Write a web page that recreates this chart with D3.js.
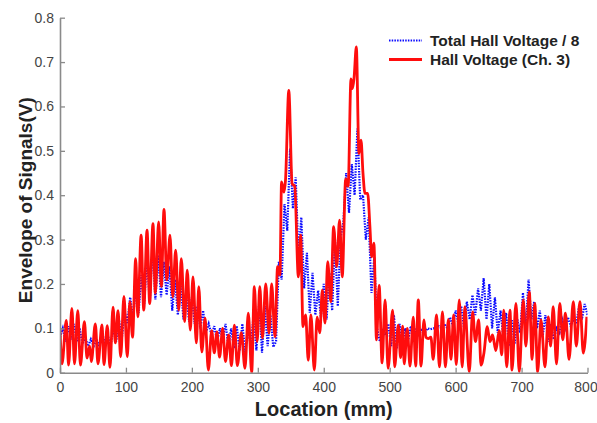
<!DOCTYPE html>
<html>
<head>
<meta charset="utf-8">
<script src="https://cdn.jsdelivr.net/npm/d3@7/dist/d3.min.js"></script>
<style>
  html, body { margin: 0; padding: 0; background: #fff; }
  svg { display: block; }
</style>
</head>
<body>
<svg id="chart" width="597" height="423"></svg>
<script>
// Hall voltage envelopes along the scan (location in mm, envelope in V)
const xTicks = [0, 100, 200, 300, 400, 500, 600, 700, 800];
const yTicks = [0, 0.1, 0.2, 0.3, 0.4, 0.5, 0.6, 0.7, 0.8];
const seriesNames = ["Total Hall Voltage / 8", "Hall Voltage (Ch. 3)"];

// Channel 3 envelope: sample locations (mm) and values (V)
const ch3Loc = [
  0, 3, 9.6, 13, 18, 22, 27, 31, 37, 41, 45, 47.5, 53.6, 57.6, 63.7, 66.7, 71.7, 75.8,
  80.4, 84, 88, 92, 97, 102, 106, 110, 114.8, 118, 123, 127, 132, 136, 141, 144.6, 149.6,
  153.7, 157.7, 162, 166.8, 171, 175.4, 180, 184, 189, 193, 197.6, 201.7, 206.8, 210.5,
  215, 220, 225, 230, 234, 238, 242, 246.7, 251, 255.8, 260, 264.5, 269, 275, 280.5,
  285.6, 290.7, 294.7, 299, 303, 307, 312, 317, 321, 326, 330, 333.6, 336, 339.7, 342,
  347, 352, 356, 361.5, 365, 368.5, 372.5, 376.5, 380.5, 385.7, 390, 394, 397.8, 402,
  406, 410.6, 415, 419.6, 424, 428, 433.3, 437, 441.3, 443.5, 446, 449.4, 453.4, 456.5,
  459.5, 462.5, 466.6, 470, 472.7, 476, 480, 484, 488.5, 493, 497.6, 504.5, 507.5, 513,
  516.6, 519.7, 522, 526.7, 530.8, 535.8, 539.4, 543.4, 547.5, 552, 555, 558.6, 562.5,
  566, 571, 575.5, 580, 584.5, 589, 593, 597, 601, 605.5, 610, 614, 620.7, 625.8, 630,
  635, 638.5, 643, 648, 652, 656, 661, 666, 670, 673, 677.5, 682.4, 685.5, 691.5, 696.5,
  702.6, 706.5, 711.7, 716, 720, 724.4, 729.5, 735.5, 740.5, 744, 748, 753, 758, 762.5,
  766.5, 772, 778.5, 783, 788.6, 793.6, 799
];
const ch3Val = [
  0.10, 0.02, 0.118, 0.017, 0.145, 0.02, 0.14, 0.017, 0.115, 0.033, 0.06, 0.025, 0.11, 0.02,
  0.108, 0.018, 0.106, 0.012, 0.148, 0.067, 0.14, 0.036, 0.172, 0.036, 0.16, 0.08, 0.257,
  0.126, 0.31, 0.141, 0.321, 0.156, 0.336, 0.179, 0.34, 0.194, 0.368, 0.209, 0.31, 0.171,
  0.276, 0.141, 0.257, 0.115, 0.231, 0.096, 0.216, 0.067, 0.194, 0.047, 0.123, 0.006,
  0.095, 0.045, 0.092, 0.035, 0.1, 0.025, 0.085, 0.016, 0.107, 0.016, 0.09, 0.01, 0.134,
  0.0, 0.194, 0.07, 0.194, 0.078, 0.2, 0.089, 0.2, 0.081, 0.239, 0.22, 0.43, 0.407, 0.434,
  0.636, 0.426, 0.42, 0.216, 0.31, 0.104, 0.13, 0.028, 0.13, 0.006, 0.125, 0.09, 0.186,
  0.112, 0.25, 0.16, 0.329, 0.239, 0.344, 0.216, 0.437, 0.42, 0.662, 0.64, 0.665, 0.734,
  0.494, 0.524, 0.45, 0.404, 0.404, 0.33, 0.261, 0.292, 0.074, 0.197, 0.022, 0.164, 0.01,
  0.141, 0.013, 0.107, 0.034, 0.105, 0.02, 0.1, 0.015, 0.125, 0.015, 0.164, 0.015, 0.119,
  0.08, 0.077, 0.08, 0.03, 0.13, 0.013, 0.137, 0.013, 0.12, 0.03, 0.13, 0.018, 0.164,
  0.013, 0.149, 0.002, 0.137, 0.07, 0.119, 0.017, 0.045, 0.104, 0.07, 0.085, 0.05, 0.095,
  0.04, 0.141, 0.013, 0.141, 0.006, 0.156, 0.002, 0.164, 0.06, 0.182, 0.03, 0.156, 0.002,
  0.119, 0.013, 0.126, 0.06, 0.149, 0.02, 0.156, 0.074, 0.134, 0.03, 0.16, 0.06, 0.16,
  0.044, 0.126
];

// Total Hall voltage / 8: evenly spaced samples over 0..800 mm
const totalSpan = 800;
const totalVal = [
  0.08, 0.1, 0.07, 0.105, 0.075, 0.11, 0.07, 0.1, 0.065, 0.08, 0.06, 0.075,
  0.06, 0.075, 0.06, 0.09, 0.065, 0.085, 0.06, 0.1, 0.07, 0.12, 0.075, 0.14,
  0.11, 0.17, 0.125, 0.185, 0.135, 0.22, 0.155, 0.26, 0.16, 0.285, 0.165, 0.265,
  0.17, 0.25, 0.175, 0.24, 0.14, 0.21, 0.13, 0.2, 0.12, 0.18, 0.115, 0.17,
  0.11, 0.15, 0.1, 0.14, 0.09, 0.11, 0.085, 0.105, 0.07, 0.1, 0.075, 0.11,
  0.06, 0.1, 0.055, 0.105, 0.05, 0.11, 0.045, 0.1, 0.06, 0.13, 0.05, 0.16,
  0.045, 0.15, 0.06, 0.13, 0.058, 0.07, 0.25, 0.21, 0.38, 0.32, 0.505, 0.37,
  0.44, 0.26, 0.35, 0.19, 0.27, 0.135, 0.225, 0.13, 0.185, 0.125, 0.2, 0.12,
  0.225, 0.14, 0.3, 0.15, 0.305, 0.34, 0.45, 0.36, 0.47, 0.4, 0.55, 0.39,
  0.4, 0.3, 0.35, 0.18, 0.26, 0.1, 0.07, 0.1, 0.085, 0.11, 0.06, 0.13,
  0.055, 0.11, 0.06, 0.1, 0.07, 0.105, 0.08, 0.1, 0.085, 0.1, 0.09, 0.1,
  0.098, 0.1, 0.1, 0.105, 0.1, 0.11, 0.1, 0.125, 0.105, 0.14, 0.11, 0.15,
  0.1, 0.16, 0.12, 0.175, 0.13, 0.19, 0.14, 0.213, 0.12, 0.2, 0.1, 0.17,
  0.09, 0.14, 0.08, 0.135, 0.06, 0.12, 0.065, 0.12, 0.09, 0.18, 0.1, 0.21,
  0.12, 0.16, 0.1, 0.14, 0.08, 0.13, 0.07, 0.11, 0.075, 0.1, 0.09, 0.12,
  0.1, 0.125, 0.105, 0.12, 0.11, 0.15, 0.12, 0.155, 0.13
];

const W = 597, H = 423;
const margin = { left: 60, right: 9.5, top: 17.7, bottom: 50.3 };
const svg = d3.select("#chart");

const x = d3.scaleLinear().domain([0, 800]).range([margin.left, W - margin.right]);
const y = d3.scaleLinear().domain([0, 0.8]).range([H - margin.bottom, margin.top]);

const ch3 = ch3Loc.map((d, i) => [d, ch3Val[i]]);
const totalStep = totalSpan / (totalVal.length - 1);
const total = totalVal.map((v, i) => [i * totalStep, v]);

svg.append("defs").append("clipPath").attr("id", "plotClip")
  .append("rect")
  .attr("x", margin.left).attr("y", margin.top - 2)
  .attr("width", W - margin.left - margin.right)
  .attr("height", H - margin.top - margin.bottom + 2);

const plot = svg.append("g").attr("clip-path", "url(#plotClip)");

const line = d3.line().x(d => x(d[0])).y(d => y(d[1]));
const smooth = d3.line().x(d => x(d[0])).y(d => y(d[1])).curve(d3.curveMonotoneX);

const blue = "#0a0aff", red = "#ff0d0d";
const blueDash = "1.5 1.2";

plot.append("path")
  .datum(total)
  .attr("d", line)
  .attr("fill", "none")
  .attr("stroke", blue)
  .attr("stroke-width", 2.2)
  .attr("stroke-dasharray", blueDash);

plot.append("path")
  .datum(ch3)
  .attr("d", smooth)
  .attr("fill", "none")
  .attr("stroke", red)
  .attr("stroke-width", 2.8)
  .attr("stroke-linejoin", "round");

// Axes (left and bottom only, ticks pointing inward)
const axisColor = "#8a8a8a";
const font = "'Liberation Sans', Arial, sans-serif";

const xAxis = svg.append("g")
  .attr("transform", `translate(0,${H - margin.bottom})`)
  .call(d3.axisBottom(x).tickValues(xTicks).tickSizeInner(-5).tickSizeOuter(0)
    .tickFormat(d3.format("d")).tickPadding(9));
const yAxis = svg.append("g")
  .attr("transform", `translate(${margin.left},0)`)
  .call(d3.axisLeft(y).tickValues(yTicks).tickSizeInner(-5).tickSizeOuter(0)
    .tickFormat(d => d === 0 ? "0" : d3.format(".1f")(d)).tickPadding(6));

[xAxis, yAxis].forEach(g => {
  g.select(".domain").attr("stroke", axisColor).attr("stroke-width", 1.6);
  g.selectAll(".tick line").attr("stroke", axisColor).attr("stroke-width", 1.3);
  g.selectAll(".tick text")
    .attr("fill", "#444")
    .style("font-family", font)
    .style("font-size", "14px");
});
// keep the last x label inside the canvas
xAxis.selectAll(".tick text").filter(d => d === 800).attr("dx", -2);

// Axis titles
svg.append("text")
  .attr("x", (margin.left + W - margin.right) / 2)
  .attr("y", 416)
  .attr("text-anchor", "middle")
  .style("font-family", font)
  .style("font-weight", "bold")
  .style("font-size", "20px")
  .attr("fill", "#222")
  .text("Location (mm)");

svg.append("text")
  .attr("transform", `translate(32,${(margin.top + H - margin.bottom) / 2 + 5}) rotate(-90)`)
  .attr("text-anchor", "middle")
  .style("font-family", font)
  .style("font-weight", "bold")
  .style("font-size", "19px")
  .attr("fill", "#222")
  .text("Envelope of Signals(V)");

// Legend
const legend = svg.append("g");
const legendRows = [
  { name: seriesNames[0], color: blue, width: 2.2, dash: blueDash, yPos: 40.5 },
  { name: seriesNames[1], color: red, width: 2.8, dash: null, yPos: 59.5 }
];
legendRows.forEach(r => {
  legend.append("line")
    .attr("x1", 389).attr("x2", 422)
    .attr("y1", r.yPos).attr("y2", r.yPos)
    .attr("stroke", r.color)
    .attr("stroke-width", r.width)
    .attr("stroke-dasharray", r.dash);
  legend.append("text")
    .attr("x", 430).attr("y", r.yPos + 5.5)
    .style("font-family", font)
    .style("font-weight", "bold")
    .style("font-size", "15.5px")
    .attr("fill", "#222")
    .text(r.name);
});
</script>
</body>
</html>
